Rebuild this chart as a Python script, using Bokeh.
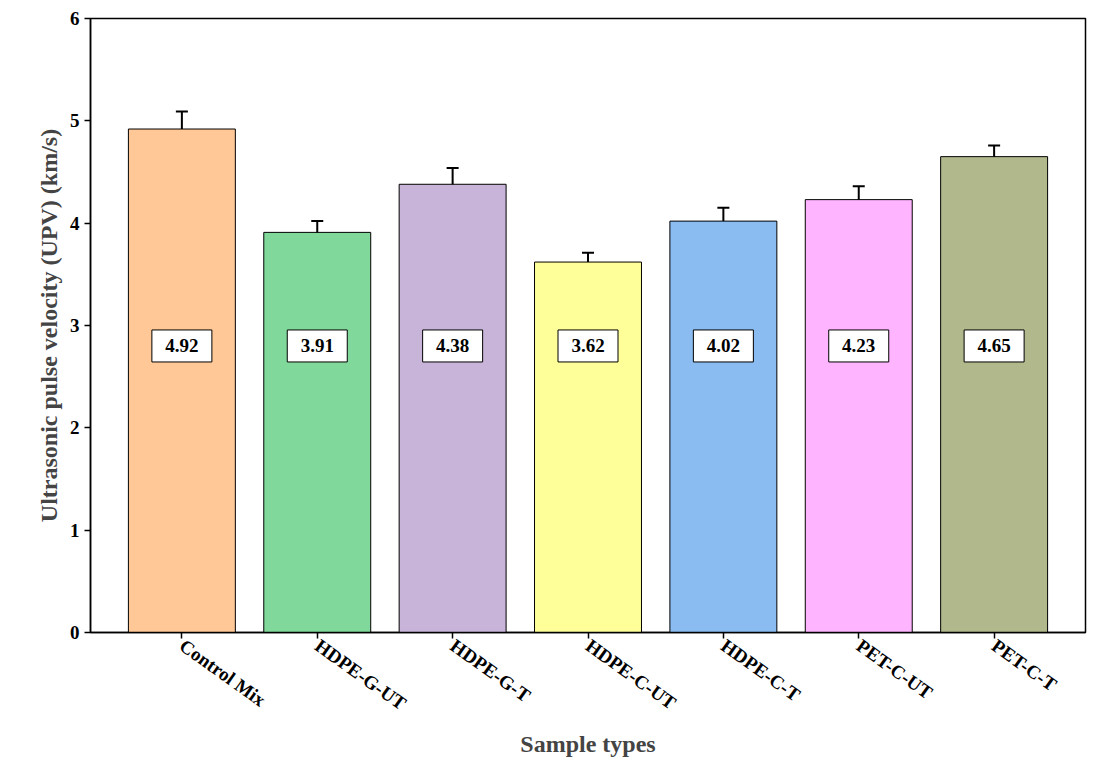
from bokeh.plotting import figure
from bokeh.models import ColumnDataSource, Whisker, Range1d
from bokeh.core.properties import value
from bokeh.embed import file_html
from bokeh.resources import INLINE

categories = ["Control Mix", "HDPE-G-UT", "HDPE-G-T", "HDPE-C-UT", "HDPE-C-T", "PET-C-UT", "PET-C-T"]
values = [4.92, 3.91, 4.38, 3.62, 4.02, 4.23, 4.65]
errors = [0.17, 0.11, 0.16, 0.09, 0.13, 0.13, 0.11]
colors = ["#FFC896", "#80D99A", "#C8B4D8", "#FFFF9A", "#8ABCF2", "#FFB4FF", "#B0B88C"]
label_y = [2.8] * 7

src = ColumnDataSource(dict(
    x=categories, top=values, color=colors,
    upper=[v + e for v, e in zip(values, errors)],
    lower=[v - e for v, e in zip(values, errors)],
    ly=label_y, txt=["%.2f" % v for v in values]))

p = figure(x_range=categories, y_range=Range1d(0, 6), width=1095, height=759,
           output_backend="svg", toolbar_location=None,
           min_border_left=90, min_border_right=10, min_border_top=18, min_border_bottom=10)
p.vbar(x="x", top="top", width=0.79, fill_color="color", line_color="black", line_width=1, source=src)
w = Whisker(base="x", upper="upper", lower="lower", source=src, line_color="black", line_width=2)
w.upper_head.size = 12; w.lower_head.size = 12
w.upper_head.line_width = 2; w.lower_head.line_width = 2
p.add_layout(w)
p.rect(x="x", y="ly", width=60, height=32, width_units="screen", height_units="screen",
       fill_color="white", line_color="black", line_width=1, source=src)
p.text(x="x", y="ly", text="txt", source=src, text_align="center", text_baseline="middle",
       text_font=value("Liberation Serif"), text_font_style="bold", text_font_size="19px")

p.grid.visible = False
p.outline_line_color = "black"
p.outline_line_width = 1.5
for ax in (p.xaxis, p.yaxis):
    ax.axis_line_width = 1.5
    ax.major_tick_line_width = 1.5
    ax.major_label_text_font = "Liberation Serif"
    ax.major_label_text_font_style = "bold"
    ax.major_label_text_font_size = "19px"
    ax.major_label_text_color = "black"
    ax.axis_label_text_font = "Liberation Serif"
    ax.axis_label_text_font_style = "bold"
    ax.axis_label_text_font_size = "24px"
    ax.minor_tick_line_color = None
    ax.major_tick_out = 6
    ax.major_tick_in = 0
p.yaxis.ticker = [0, 1, 2, 3, 4, 5, 6]
p.xaxis.major_label_orientation = -0.62
p.xaxis.axis_label = "Sample types"
p.yaxis.axis_label = "Ultrasonic pulse velocity (UPV) (km/s)"
p.x_range.range_padding = 0.05

open("out.html", "w").write(file_html(p, INLINE))
